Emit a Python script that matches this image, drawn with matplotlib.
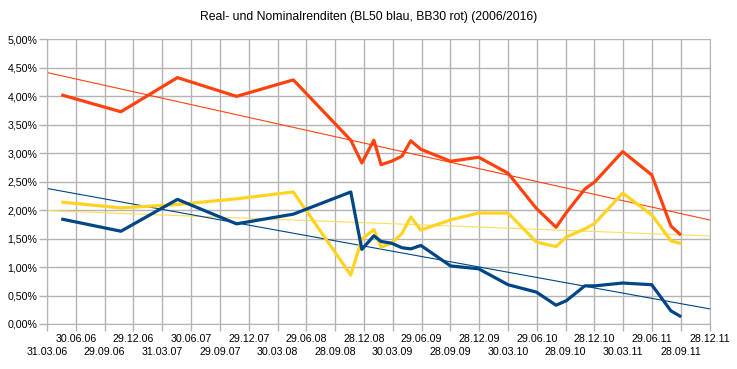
import numpy as np
import pandas as pd
import matplotlib
matplotlib.use("Agg")
import matplotlib.pyplot as plt
import matplotlib.dates as mdates
from matplotlib.ticker import FuncFormatter

plt.rcParams['font.family'] = ['Liberation Sans', 'DejaVu Sans']

# Daten
datum = ["2006-05-20", "2006-11-20", "2007-05-18", "2007-11-21", "2008-05-19",
         "2008-11-17", "2008-12-22", "2009-01-29", "2009-02-21", "2009-03-26",
         "2009-04-28", "2009-05-26", "2009-06-27", "2009-09-29", "2009-12-27",
         "2010-03-30", "2010-06-28", "2010-08-29", "2010-10-01", "2010-11-28",
         "2010-12-30", "2011-03-28", "2011-06-28", "2011-08-28", "2011-09-25"]
bb30 = [4.02, 3.73, 4.33, 4.00, 4.29, 3.23, 2.83, 3.23, 2.80, 2.86, 2.95, 3.22,
        3.07, 2.86, 2.93, 2.65, 2.03, 1.70, 1.96, 2.37, 2.50, 3.03, 2.62, 1.72, 1.58]
bl50 = [1.84, 1.63, 2.19, 1.76, 1.93, 2.32, 1.31, 1.55, 1.45, 1.42, 1.34, 1.32,
        1.38, 1.02, 0.97, 0.69, 0.56, 0.33, 0.41, 0.67, 0.67, 0.72, 0.69, 0.23, 0.14]
gelb = [2.14, 2.04, 2.10, 2.20, 2.32, 0.86, 1.49, 1.66, 1.35, 1.42, 1.59, 1.88,
        1.65, 1.83, 1.95, 1.95, 1.44, 1.36, 1.53, 1.67, 1.77, 2.30, 1.92, 1.46, 1.42]

start = pd.Timestamp("2006-03-31")
n_ticks = 24  # Quartale, Schritt 91,25 Tage

x = mdates.date2num(pd.to_datetime(datum))
x0 = mdates.date2num(start)
ticks = x0 + np.arange(n_ticks) * 91.25
x1 = ticks[-1]

fig = plt.figure(figsize=(7.37, 3.69), dpi=100)
ax = fig.add_axes([0.0638, 0.122, 0.963 - 0.0638, 0.893 - 0.122])

rot = "#ff420e"
blau = "#004586"
gelb_c = "#ffd320"

ax.plot(x, bb30, color=rot, lw=2.3, solid_joinstyle="round", zorder=3)
ax.plot(x, gelb, color=gelb_c, lw=2.3, solid_joinstyle="round", zorder=3)
ax.plot(x, bl50, color=blau, lw=2.3, solid_joinstyle="round", zorder=3)

# lineare Trendlinien
xx = np.array([x0, x1])
for y, c in [(bb30, rot), (gelb, "#ffdc55"), (bl50, blau)]:
    m, b = np.polyfit(x, y, 1)
    ax.plot(xx, m * xx + b, color=c, lw=0.8, zorder=2)

ax.set_xlim(x0, x1)
ax.set_ylim(0, 5)
ax.set_yticks(np.arange(0, 5.01, 0.5))
ax.yaxis.set_major_formatter(FuncFormatter(lambda v, p: f"{v:.2f}%".replace(".", ",")))

# obere Reihe = Major-Ticks, untere Reihe = Minor-Ticks
fmt = lambda t: mdates.num2date(t).strftime("%d.%m.%y")
oben = ticks[1::2]
unten = ticks[0::2]
ax.set_xticks(oben)
ax.set_xticklabels([fmt(t) for t in oben])
ax.set_xticks(unten, minor=True)
ax.set_xticklabels([fmt(t) for t in unten], minor=True)

ax.grid(True, which="both", color="#b3b3b3", lw=1)
ax.set_axisbelow(True)
for s in ax.spines.values():
    s.set_color("#b3b3b3")
ax.spines["top"].set_visible(False)
ax.tick_params(axis="both", which="both", colors="#b3b3b3", labelcolor="black",
               labelsize=7.7, width=1)
ax.tick_params(axis="y", length=6, pad=1)
ax.tick_params(axis="x", which="major", length=5, pad=2)
ax.tick_params(axis="x", which="minor", length=5, pad=11.5)

fig.text(0.5, 0.953, "Real- und Nominalrenditen (BL50 blau, BB30 rot) (2006/2016)",
         ha="center", va="center", fontsize=8.8)

fig.savefig("out.png", dpi=100)
